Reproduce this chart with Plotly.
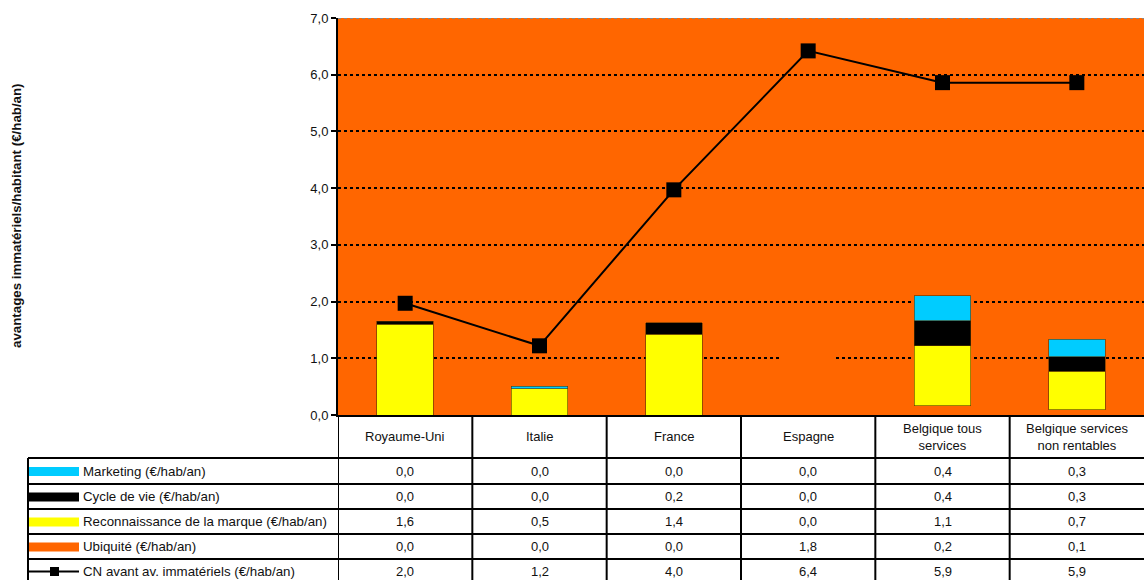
import plotly.graph_objects as go

categories = ["Royaume-Uni", "Italie", "France", "Espagne", "Belgique tous<br>services", "Belgique services<br>non rentables"]
ubiquite = [0.0, 0.0, 0.0, 1.8, 0.16, 0.09]
reconnaissance = [1.60, 0.46, 1.42, 0.0, 1.06, 0.68]
cycle_vie = [0.049, 0.0, 0.21, 0.0, 0.44, 0.26]
marketing = [0.0, 0.049, 0.0, 0.0, 0.44, 0.31]
cn_avant = [1.97, 1.22, 3.97, 6.42, 5.86, 5.86]
y_ticks = [0, 1, 2, 3, 4, 5, 6, 7]

ORANGE = "#FF6600"
YELLOW = "#FFFF00"
BLACK = "#000000"
CYAN = "#00CCFF"
FONT = "Arial, Liberation Sans, sans-serif"
FS = 13

W, H = 1144, 580
L, R, T, B = 338, 0, 18, 165
PW = W - L - R
PH = H - T - B
Y0 = H - B  # pixel of y=0


def py(ypx):
    return (Y0 - ypx) / PH


def px(xpx):
    return (xpx - L) / PW


x = list(range(len(categories)))
fig = go.Figure()
bar_w = 0.42
series = [
    ("Ubiquité (€/hab/an)", ubiquite, ORANGE),
    ("Reconnaissance de la marque (€/hab/an)", reconnaissance, YELLOW),
    ("Cycle de vie (€/hab/an)", cycle_vie, BLACK),
    ("Marketing (€/hab/an)", marketing, CYAN),
]
for name, vals, col in series:
    widths = [0.6 if (v > 0 and col != ORANGE) else 0 for v in vals]
    fig.add_trace(go.Bar(x=x, y=vals, name=name,
                         marker=dict(color=col, line=dict(width=widths, color="#553300")),
                         width=bar_w, showlegend=False))
fig.add_trace(go.Scatter(x=x, y=cn_avant, mode="lines+markers", name="CN avant av. immatériels (€/hab/an)",
                         line=dict(color=BLACK, width=2), marker=dict(symbol="square", size=15, color=BLACK),
                         showlegend=False))

shapes = []
annotations = []
lw = 2
# top grey line at 7.0
shapes.append(dict(type="line", xref="paper", yref="y", x0=0, x1=1, y0=7, y1=7,
                   line=dict(color="#888888", width=2, dash="dot"), layer="above"))

# table geometry (pixels)
header_top = 415
row_edges = [458, 484, 509, 534, 559, 585]
table_left = 28

for ypx in row_edges:
    shapes.append(dict(type="line", xref="paper", yref="paper", x0=px(table_left), x1=1,
                       y0=py(ypx), y1=py(ypx), line=dict(color=BLACK, width=lw)))
shapes.append(dict(type="line", xref="paper", yref="paper", x0=px(table_left), x1=px(table_left),
                   y0=py(row_edges[0]), y1=py(row_edges[-1]), line=dict(color=BLACK, width=lw)))
for i in range(len(categories)):
    shapes.append(dict(type="line", xref="x", yref="paper", x0=i - 0.5, x1=i - 0.5,
                       y0=py(header_top), y1=py(row_edges[-1]), line=dict(color=BLACK, width=lw)))

for i, c in enumerate(categories):
    annotations.append(dict(x=i, y=py((header_top + row_edges[0]) / 2), xref="x", yref="paper",
                            text=c, showarrow=False, font=dict(family=FONT, size=FS, color="#111111"),
                            xanchor="center", yanchor="middle"))

rows = [
    ("Marketing (€/hab/an)", marketing, CYAN, "bar"),
    ("Cycle de vie (€/hab/an)", cycle_vie, BLACK, "bar"),
    ("Reconnaissance de la marque (€/hab/an)", reconnaissance, YELLOW, "bar"),
    ("Ubiquité (€/hab/an)", ubiquite, ORANGE, "bar"),
    ("CN avant av. immatériels (€/hab/an)", cn_avant, BLACK, "line"),
]
for r, (label, vals, col, kind) in enumerate(rows):
    yc = (row_edges[r] + row_edges[r + 1]) / 2
    if r == len(rows) - 1:
        yc = row_edges[r] + 12.5
    if kind == "bar":
        shapes.append(dict(type="rect", xref="paper", yref="paper", x0=px(29), x1=px(79),
                           y0=py(yc + 5), y1=py(yc - 4), fillcolor=col, line=dict(width=0)))
    else:
        shapes.append(dict(type="line", xref="paper", yref="paper", x0=px(29), x1=px(79),
                           y0=py(yc), y1=py(yc), line=dict(color=BLACK, width=2)))
        shapes.append(dict(type="rect", xref="paper", yref="paper", x0=px(50), x1=px(59),
                           y0=py(yc + 4.5), y1=py(yc - 4.5), fillcolor=BLACK, line=dict(width=0)))
    annotations.append(dict(x=px(81), y=py(yc), xref="paper", yref="paper", text=label,
                            showarrow=False, xanchor="left", yanchor="middle",
                            font=dict(family=FONT, size=13.3, color="#111111")))
    for i, v in enumerate(vals):
        annotations.append(dict(x=i, y=py(yc), xref="x", yref="paper",
                                text=f"{v:.1f}".replace(".", ","), showarrow=False,
                                xanchor="center", yanchor="middle",
                                font=dict(family=FONT, size=FS, color="#111111")))

annotations.append(dict(x=px(17), y=py(216), xref="paper", yref="paper",
                        text="<b>avantages immatériels/habitant (€/hab/an)</b>", textangle=-90,
                        showarrow=False, xanchor="center", yanchor="middle",
                        font=dict(family=FONT, size=13.3, color="#111111")))

fig.update_layout(
    width=W, height=H,
    margin=dict(l=L, r=R, t=T, b=B, pad=0),
    barmode="stack",
    plot_bgcolor=ORANGE,
    paper_bgcolor="white",
    shapes=shapes,
    annotations=annotations,
    showlegend=False,
    xaxis=dict(range=[-0.5, 5.5], showticklabels=False, showgrid=False, zeroline=False,
               showline=True, linecolor=BLACK, linewidth=2, ticks=""),
    yaxis=dict(range=[0, 7], tickvals=y_ticks,
               ticktext=[f"{v:.1f}".replace(".", ",") for v in y_ticks],
               showgrid=True, gridcolor=BLACK, gridwidth=1.5, griddash="dot",
               zeroline=False, showline=True, linecolor=BLACK, linewidth=2,
               ticks="outside", ticklen=5, tickwidth=1.5, tickcolor=BLACK,
               tickfont=dict(family=FONT, size=FS, color="#111111")),
)

fig.write_html("out.html")
